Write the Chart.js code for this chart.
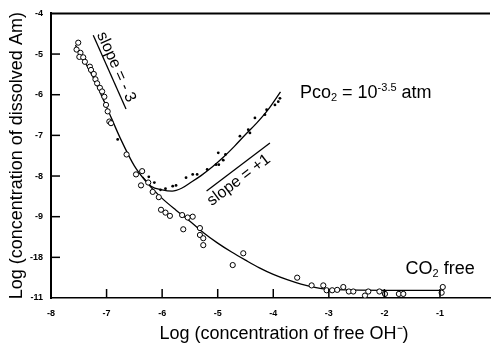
<!DOCTYPE html>
<html>
<head>
<meta charset="utf-8">
<script src="https://cdn.jsdelivr.net/npm/chart.js@4.4.0/dist/chart.umd.min.js"></script>
<style>
  html, body { margin: 0; padding: 0; background: #fff; }
  canvas { display: block; }
</style>
</head>
<body>
<canvas id="chart" width="495" height="344"></canvas>
<script>
// CO2 free measurements (open circles)
const freeX = [-7.51, -7.54, -7.47, -7.49, -7.42, -7.39, -7.30, -7.28, -7.23, -7.20, -7.17, -7.12, -7.08, -7.04,
  -7.01, -6.98, -6.95, -6.92, -6.64, -6.47, -6.36, -6.38, -6.25, -6.17, -6.06, -6.02, -5.94, -5.86, -5.64, -5.54,
  -5.45, -5.62, -5.32, -5.32, -5.26, -5.26, -4.73, -4.54, -3.57, -3.31, -3.10, -3.04, -2.94, -2.85, -2.74, -2.64,
  -2.56, -2.35, -2.29, -2.09, -1.99, -1.74, -1.66, -0.95, -0.97];
const freeY = [-4.72, -4.89, -4.97, -5.07, -5.08, -5.19, -5.31, -5.39, -5.49, -5.62, -5.72, -5.83, -5.92, -6.05,
  -6.25, -6.41, -6.66, -6.70, -7.47, -7.96, -7.88, -8.23, -8.16, -8.39, -8.52, -8.83, -8.90, -8.98, -8.96, -9.02,
  -9.00, -9.31, -9.28, -9.45, -9.53, -9.70, -10.19, -9.90, -10.50, -10.69, -10.69, -10.81, -10.81, -10.80, -10.73, -10.84,
  -10.84, -10.94, -10.84, -10.84, -10.90, -10.90, -10.90, -10.73, -10.87];

// Pco2 = 10^-3.5 atm measurements (small dots)
const pco2X = [-6.99, -6.80, -6.24, -6.14, -6.03, -5.94, -5.81, -5.75, -5.57, -5.45, -5.37, -5.19, -5.03,
  -4.98, -4.99, -4.90, -4.86, -4.60, -4.45, -4.42, -4.33, -4.15, -4.12, -3.97, -3.91, -3.88];
const pco2Y = [-6.41, -7.10, -8.02, -8.16, -8.34, -8.31, -8.25, -8.23, -8.04, -7.96, -7.96, -7.84, -7.72,
  -7.72, -7.43, -7.61, -7.47, -7.02, -6.86, -6.94, -6.57, -6.49, -6.37, -6.25, -6.17, -6.09];

// fitted curves
const freeCurveX = [-7.56, -7.25, -7.0, -6.75, -6.5, -6.25, -6.0, -5.75, -5.5, -5.25, -5.0, -4.75, -4.5,
  -4.25, -4.0, -3.75, -3.5, -3.25, -3.0, -2.0, -1.0];
const freeCurveY = [-4.78, -5.55, -6.3, -7.08, -7.75, -8.2, -8.55, -8.84, -9.11, -9.4, -9.65, -9.87, -10.07,
  -10.26, -10.42, -10.55, -10.66, -10.74, -10.79, -10.81, -10.81];
const pco2CurveX = [-6.35, -6.2, -6.0, -5.82, -5.65, -5.5, -5.3, -5.1, -4.9, -4.7, -4.5, -4.3, -4.1, -3.87];
const pco2CurveY = [-8.02, -8.25, -8.34, -8.37, -8.3, -8.17, -7.99, -7.78, -7.54, -7.27, -6.98, -6.7, -6.38, -5.93];

// reference slope segments
const slopeMinus3X = [-7.24, -6.65];
const slopeMinus3Y = [-4.54, -6.35];
const slopePlus1X = [-5.2, -4.06];
const slopePlus1Y = [-8.37, -7.19];

// axis ticks
const xTickValues = [-8, -7, -6, -5, -4, -3, -2, -1];
const xTickLabels = ['-8', '-7', '-6', '-5', '-4', '-3', '-2', '-1'];
const yTickValues = [-11, -10, -9, -8, -7, -6, -5, -4];
const yTickLabels = ['-11', '-18', '-9', '-8', '-7', '-6', '-5', '-4'];

const FONT = "'Liberation Sans', Arial, Helvetica, sans-serif";

function toPoints(xs, ys) {
  return xs.map((x, i) => ({ x: x, y: ys[i] }));
}

// draws text made of pieces with different sizes / baseline shifts
function drawParts(ctx, x, y, parts) {
  let cx = x;
  parts.forEach(p => {
    ctx.font = p.size + 'px ' + FONT;
    ctx.fillText(p.t, cx, y + (p.dy || 0));
    cx += ctx.measureText(p.t).width;
  });
}

const decor = {
  id: 'decor',
  afterDraw(chart) {
    const ctx = chart.ctx;
    const a = chart.chartArea;
    const xs = chart.scales.x;
    const ys = chart.scales.y;
    ctx.save();
    ctx.strokeStyle = '#000';
    ctx.fillStyle = '#000';

    // top frame line
    ctx.lineWidth = 2;
    ctx.beginPath();
    ctx.moveTo(a.left - 1, a.top);
    ctx.lineTo(a.right, a.top);
    ctx.stroke();

    // inward tick marks
    ctx.lineWidth = 1.5;
    xTickValues.forEach(v => {
      if (v === xs.min) return;
      const px = xs.getPixelForValue(v);
      ctx.beginPath();
      ctx.moveTo(px, a.bottom);
      ctx.lineTo(px, a.bottom - 9);
      ctx.stroke();
    });
    yTickValues.forEach(v => {
      if (v === ys.min || v === ys.max) return;
      const py = ys.getPixelForValue(v);
      ctx.beginPath();
      ctx.moveTo(a.left, py);
      ctx.lineTo(a.left + 9, py);
      ctx.stroke();
    });

    // axis titles
    ctx.font = '18px ' + FONT;
    ctx.textAlign = 'center';
    ctx.textBaseline = 'alphabetic';
    ctx.fillText('Log (concentration of free OH\u207B)', 284, 339);
    ctx.save();
    ctx.translate(22, (a.top + a.bottom) / 2);
    ctx.rotate(-Math.PI / 2);
    ctx.fillText('Log (concentration of dissolved Am)', 0, 0);
    ctx.restore();

    // series labels
    ctx.textAlign = 'left';
    drawParts(ctx, xs.getPixelForValue(-3.52), ys.getPixelForValue(-6.08), [
      { t: 'Pco', size: 18 },
      { t: '2', size: 11, dy: 3 },
      { t: ' = 10', size: 18 },
      { t: '-3.5', size: 11, dy: -7 },
      { t: ' atm', size: 18 }
    ]);
    drawParts(ctx, xs.getPixelForValue(-1.62), ys.getPixelForValue(-10.42), [
      { t: 'CO', size: 18 },
      { t: '2', size: 11, dy: 3 },
      { t: ' free', size: 18 }
    ]);

    // slope labels, rotated along their segments
    const slopeText = (label, cxv, cyv, sx, sy) => {
      const ang = Math.atan2(ys.getPixelForValue(sy[1]) - ys.getPixelForValue(sy[0]),
        xs.getPixelForValue(sx[1]) - xs.getPixelForValue(sx[0]));
      ctx.save();
      ctx.translate(xs.getPixelForValue(cxv), ys.getPixelForValue(cyv));
      ctx.rotate(ang);
      ctx.font = '16px ' + FONT;
      ctx.textAlign = 'center';
      ctx.textBaseline = 'middle';
      ctx.fillText(label, 0, 0);
      ctx.restore();
    };
    slopeText('slope = - 3', -6.83, -5.32, slopeMinus3X, slopeMinus3Y);
    slopeText('slope = +1', -4.62, -8.10, slopePlus1X, slopePlus1Y);

    ctx.restore();
  }
};

new Chart(document.getElementById('chart'), {
  type: 'scatter',
  data: {
    datasets: [
      {
        label: 'CO2 free',
        data: toPoints(freeX, freeY),
        pointStyle: 'circle',
        pointRadius: 2.6,
        pointBorderWidth: 1,
        pointBorderColor: '#000',
        pointBackgroundColor: '#fff',
        showLine: false,
        order: 1
      },
      {
        label: 'Pco2 = 10^-3.5 atm',
        data: toPoints(pco2X, pco2Y),
        pointStyle: 'circle',
        pointRadius: 1.4,
        pointBorderWidth: 0,
        pointBackgroundColor: '#000',
        showLine: false,
        order: 2
      },
      {
        label: 'CO2 free fit',
        data: toPoints(freeCurveX, freeCurveY),
        showLine: true,
        borderColor: '#000',
        borderWidth: 1.3,
        pointRadius: 0,
        cubicInterpolationMode: 'monotone',
        order: 3
      },
      {
        label: 'Pco2 fit',
        data: toPoints(pco2CurveX, pco2CurveY),
        showLine: true,
        borderColor: '#000',
        borderWidth: 1.3,
        pointRadius: 0,
        cubicInterpolationMode: 'monotone',
        order: 4
      },
      {
        label: 'slope -3',
        data: toPoints(slopeMinus3X, slopeMinus3Y),
        showLine: true,
        borderColor: '#000',
        borderWidth: 1.3,
        pointRadius: 0,
        order: 5
      },
      {
        label: 'slope +1',
        data: toPoints(slopePlus1X, slopePlus1Y),
        showLine: true,
        borderColor: '#000',
        borderWidth: 1.3,
        pointRadius: 0,
        order: 6
      }
    ]
  },
  options: {
    responsive: false,
    animation: false,
    devicePixelRatio: 1,
    layout: { padding: { top: 13, right: 0, left: 0, bottom: 0 } },
    plugins: {
      legend: { display: false },
      tooltip: { enabled: false }
    },
    scales: {
      x: {
        type: 'linear',
        min: -8,
        max: -0.1,
        afterFit: s => { s.height = 46; },
        afterBuildTicks: s => { s.ticks = xTickValues.map(v => ({ value: v })); },
        ticks: {
          autoSkip: false,
          maxRotation: 0,
          padding: 10,
          color: '#000',
          font: { family: FONT, size: 9, weight: 'bold' },
          callback: v => xTickLabels[xTickValues.indexOf(v)]
        },
        grid: { drawOnChartArea: false, drawTicks: false },
        border: { display: true, color: '#000', width: 1.5 }
      },
      y: {
        type: 'linear',
        min: -11,
        max: -4,
        afterFit: s => { s.width = 51; },
        afterBuildTicks: s => { s.ticks = yTickValues.map(v => ({ value: v })); },
        ticks: {
          autoSkip: false,
          padding: 8,
          color: '#000',
          font: { family: FONT, size: 9, weight: 'bold' },
          callback: v => yTickLabels[yTickValues.indexOf(v)]
        },
        grid: { drawOnChartArea: false, drawTicks: false },
        border: { display: true, color: '#000', width: 2 }
      }
    }
  },
  plugins: [decor]
});
</script>
</body>
</html>
